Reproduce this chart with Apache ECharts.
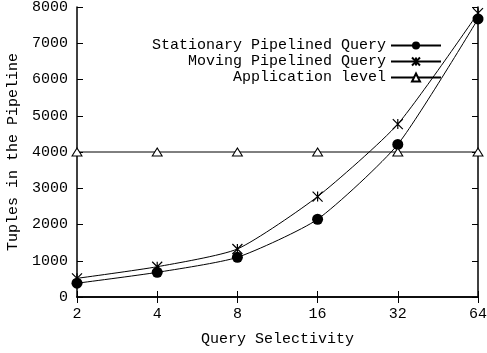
<!DOCTYPE html>
<html><head><meta charset="utf-8">
<script src="https://cdn.jsdelivr.net/npm/echarts@6/dist/echarts.min.js"></script>
<style>html,body{margin:0;padding:0;background:#fff}#c{width:487px;height:353px}</style>
</head><body><div id="c"></div>
<script>
var categories = ['2','4','8','16','32','64'];
var stationary = [380, 680, 1095, 2145, 4210, 7670];
var moving = [515, 835, 1325, 2770, 4770, 7830];
var appLevel = [4000, 4000, 4000, 4000, 4000, 4000];
var seriesNames = ['Stationary Pipelined Query','Moving Pipelined Query','Application level'];
var yTicks = {min:0, max:8000, interval:1000};

var font = 'Liberation Mono';
var chart = echarts.init(document.getElementById('c'));
var axisTxt = {color:'#000', fontFamily:font, fontSize:15};
var star = 'path://M0,0L10,10M10,0L0,10M5,0L5,10';
chart.setOption({
  animation:false,
  backgroundColor:'#fff',
  grid:{left:77, right:9, top:7, bottom:56, containLabel:false, outerBoundsMode:'none'},
  legend:{
    data:seriesNames, right:40, top:33, orient:'vertical', align:'right',
    itemWidth:50, itemHeight:10, itemGap:1,
    textStyle:{color:'#000', fontFamily:font, fontSize:15, lineHeight:14}
  },
  xAxis:[{
    type:'category', data:categories, boundaryGap:false,
    axisLine:{lineStyle:{color:'#000', width:1.5}},
    axisTick:{inside:true, length:6, lineStyle:{color:'#000'}},
    axisLabel:Object.assign({margin:10}, axisTxt),
    name:'Query Selectivity', nameLocation:'middle', nameGap:35,
    nameTextStyle:axisTxt
  },{
    type:'category', data:categories, boundaryGap:false, position:'top',
    axisLine:{lineStyle:{color:'#000', width:1.5}},
    axisTick:{inside:true, length:6, lineStyle:{color:'#000'}},
    axisLabel:{show:false}
  }],
  yAxis:[{
    type:'value', min:yTicks.min, max:yTicks.max, interval:yTicks.interval,
    axisLine:{show:true, lineStyle:{color:'#000', width:1.5}},
    axisTick:{show:true, inside:true, length:6, lineStyle:{color:'#000'}},
    splitLine:{show:false},
    axisLabel:Object.assign({margin:9, formatter:function(v){return String(v);}}, axisTxt),
    name:'Tuples in the Pipeline', nameLocation:'middle', nameGap:56,
    nameTextStyle:axisTxt
  },{
    type:'value', min:yTicks.min, max:yTicks.max, interval:yTicks.interval, position:'right',
    axisLine:{show:true, lineStyle:{color:'#000', width:1.5}},
    axisTick:{show:true, inside:true, length:6, lineStyle:{color:'#000'}},
    splitLine:{show:false}, axisLabel:{show:false}
  }],
  series:[{
    name:seriesNames[0], type:'line', data:stationary, smooth:0.2,
    symbol:'circle', symbolSize:11,
    lineStyle:{color:'#000', width:1},
    itemStyle:{color:'#000'}
  },{
    name:seriesNames[1], type:'line', data:moving, smooth:0.2,
    symbol:star, symbolSize:10,
    lineStyle:{color:'#000', width:1},
    itemStyle:{color:'#000', borderColor:'#000', borderWidth:1.2}
  },{
    name:seriesNames[2], type:'line', data:appLevel,
    symbol:'triangle', symbolSize:[10,8],
    lineStyle:{color:'#000', width:1},
    itemStyle:{color:'#fff', borderColor:'#000', borderWidth:1}
  }]
});
</script></body></html>
